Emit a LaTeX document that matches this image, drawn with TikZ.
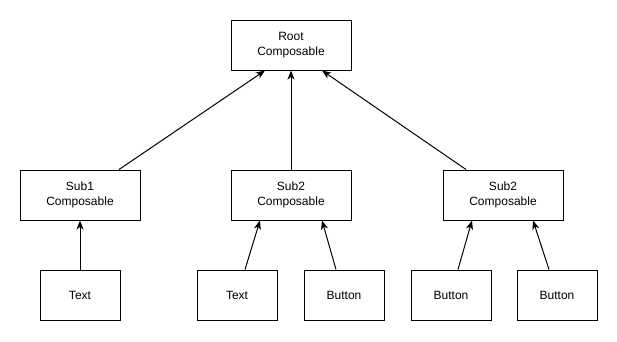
\documentclass[tikz,border=0pt]{standalone}
\usepackage{fontspec}
\setmainfont{Liberation Sans}
\usetikzlibrary{arrows.meta}
\begin{document}
\begin{tikzpicture}[x=1pt,y=-1pt,
  box/.style={draw,line width=1pt,minimum width=120pt,minimum height=50pt,inner sep=0pt,align=center,font=\fontsize{12}{15}\selectfont},
  leaf/.style={box,minimum width=80pt},
  conn/.style={line width=1pt,-{Stealth[length=9pt,width=7pt,inset=2.5pt]}}]
\useasboundingbox (0,0) rectangle (617,341);
\node[box] (root) at (291,45) {Root\\Composable};
\node[box] (s1) at (80,195) {Sub1\\Composable};
\node[box] (s2) at (291,195) {Sub2\\Composable};
\node[box] (s3) at (503,195) {Sub2\\Composable};
\node[leaf] (t1) at (80,295) {Text};
\node[leaf] (t2) at (237,295) {Text};
\node[leaf] (b1) at (344,295) {Button};
\node[leaf] (b2) at (451,295) {Button};
\node[leaf] (b3) at (557,295) {Button};
\draw[conn] ([xshift=39pt]s1.north) -- ([xshift=-26pt]root.south);
\draw[conn] (s2.north) -- (root.south);
\draw[conn] ([xshift=-37pt]s3.north) -- ([xshift=31pt]root.south);
\draw[conn] (t1.north) -- (s1.south);
\draw[conn] ([xshift=8pt]t2.north) -- ([xshift=-31pt]s2.south);
\draw[conn] ([xshift=-8pt]b1.north) -- ([xshift=31pt]s2.south);
\draw[conn] ([xshift=7pt]b2.north) -- ([xshift=-31pt]s3.south);
\draw[conn] ([xshift=-8pt]b3.north) -- ([xshift=30pt]s3.south);
\end{tikzpicture}
\end{document}
